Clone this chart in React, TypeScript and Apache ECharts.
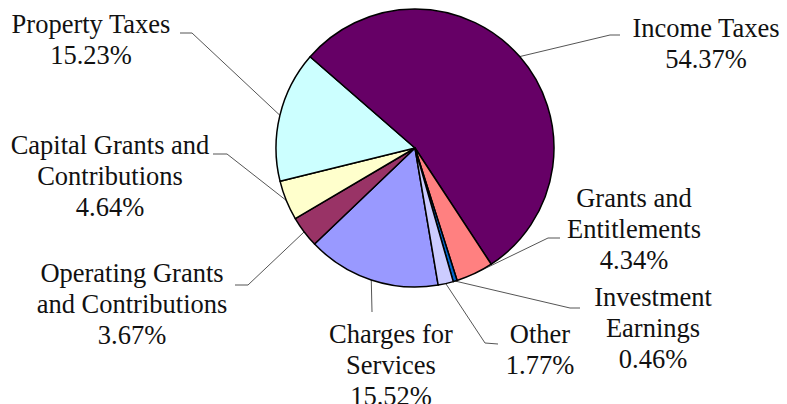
import React, { useEffect, useRef } from "react";
import * as echarts from "echarts";

// Data (Excel series order, drawn clockwise)
const categories = [
  "Charges for\nServices",
  "Operating Grants\nand Contributions",
  "Capital Grants and\nContributions",
  "Property Taxes",
  "Income Taxes",
  "Grants and\nEntitlements",
  "Investment\nEarnings",
  "Other",
];
const values = [15.52, 3.67, 4.64, 15.23, 54.37, 4.34, 0.46, 1.77];
const colors = ["#9999FF", "#993366", "#FFFFCC", "#CCFFFF", "#660066", "#FF8080", "#0066CC", "#CCCCFF"];

// Label layout (positions only): label block center, elbow point, end point of leader
const labelCenters: number[][] = [
  [391, 365],
  [132, 304],
  [110, 176],
  [91, 39],
  [706, 43],
  [634, 229],
  [653, 328],
  [540, 349],
];
const leaderElbows: number[][] = [
  [372, 312],
  [248, 285],
  [227, 154],
  [192, 33],
  [610, 35],
  [548, 238],
  [570, 308],
  [485, 343],
];
const leaderEnds: number[][] = [
  [372, 312],
  [235, 285],
  [213, 154],
  [180, 33],
  [620, 35],
  [560, 238],
  [580, 308],
  [498, 344],
];

export default function App() {
  const ref = useRef<HTMLDivElement>(null);
  useEffect(() => {
    document.body.style.margin = "0";
    if (!ref.current) return;
    const chart = echarts.init(ref.current, undefined, { renderer: "svg" });
    chart.setOption({
      animation: false,
      backgroundColor: "#ffffff",
      series: [
        {
          type: "pie",
          center: [415, 148],
          radius: 139,
          startAngle: -80.4,
          clockwise: true,
          avoidLabelOverlap: false,
          data: categories.map((name, i) => ({
            name,
            value: values[i],
            itemStyle: { color: colors[i] },
          })),
          itemStyle: { borderColor: "#000000", borderWidth: 1.5 },
          label: {
            show: true,
            position: "outside",
            formatter: (p: any) => `${p.name}\n${values[p.dataIndex].toFixed(2)}%`,
            fontFamily: "'Liberation Serif', 'Times New Roman', serif",
            fontSize: 26.5,
            lineHeight: 31,
            color: "#111111",
            align: "center",
          },
          labelLine: {
            show: true,
            length: 10,
            length2: 10,
            lineStyle: { color: "#555555", width: 1 },
          },
          emphasis: { disabled: true },
          labelLayout: (params: any) => {
            const i = params.dataIndex;
            const anchor = params.labelLinePoints ? params.labelLinePoints[0] : leaderElbows[i];
            return {
              x: labelCenters[i][0],
              y: labelCenters[i][1],
              align: "center",
              verticalAlign: "middle",
              labelLinePoints: [anchor, leaderElbows[i], leaderEnds[i]],
            };
          },
        },
      ],
    });
    return () => chart.dispose();
  }, []);
  return <div ref={ref} style={{ width: 787, height: 404 }} />;
}
